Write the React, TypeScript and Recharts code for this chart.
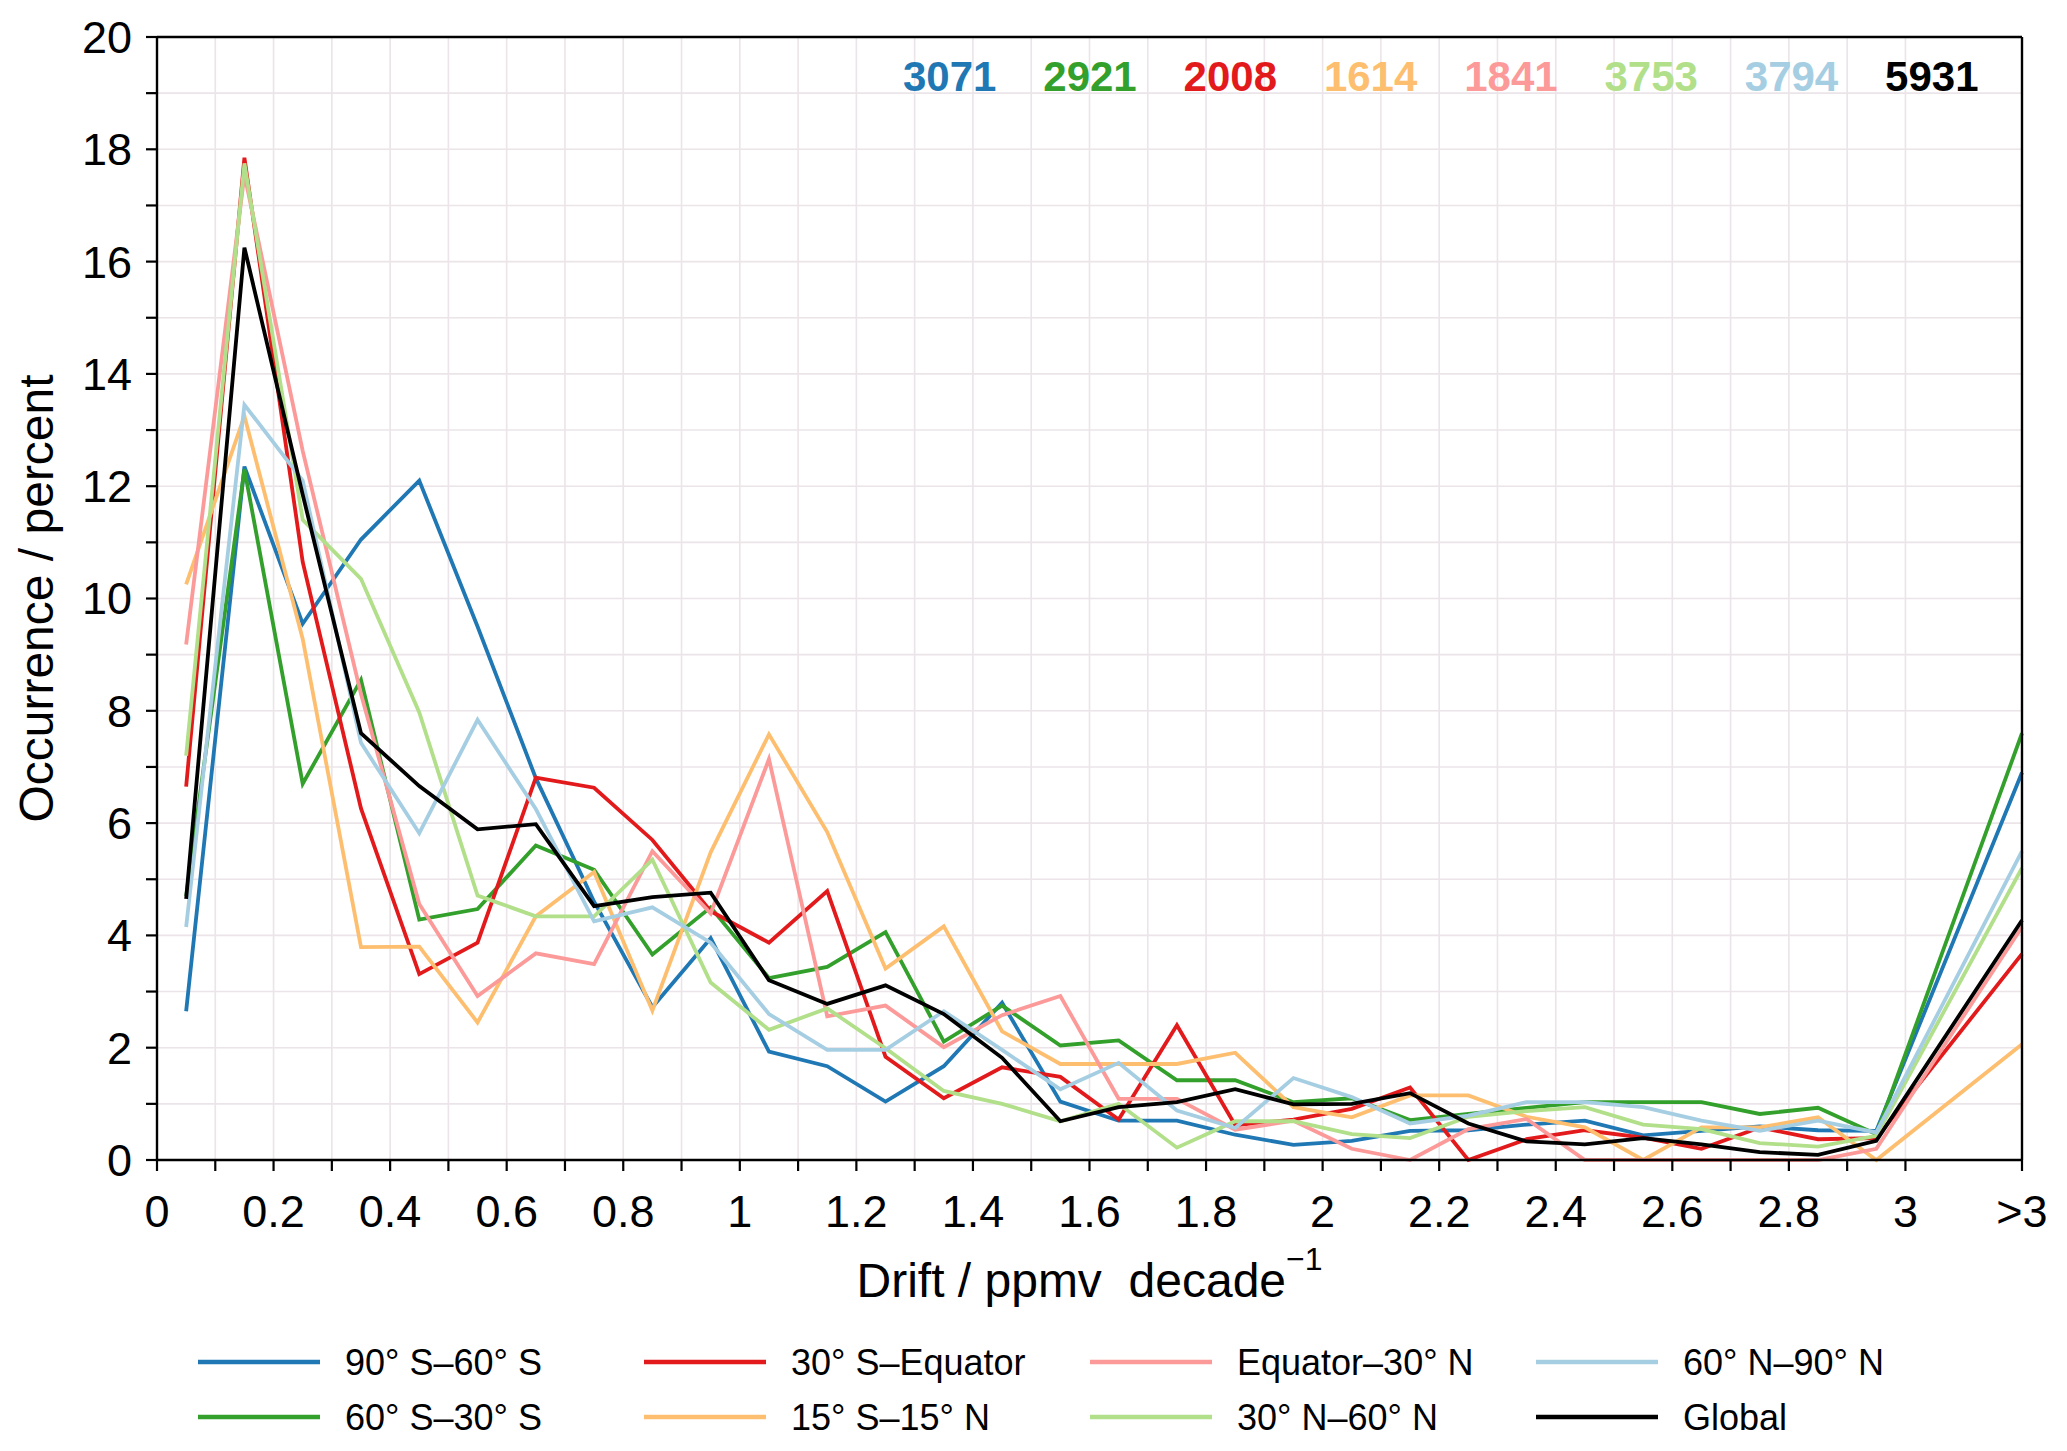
import React from 'react';
import { LineChart, Line, XAxis, YAxis, CartesianGrid } from 'recharts';

document.body.style.margin = '0';

const W = 2067;
const H = 1451;
const FONT = '"Liberation Sans", Arial, Helvetica, sans-serif';

// bin centres, the last one is the ">3" bin
const BINS = [
  0.05, 0.15, 0.25, 0.35, 0.45, 0.55, 0.65, 0.75, 0.85, 0.95,
  1.05, 1.15, 1.25, 1.35, 1.45, 1.55, 1.65, 1.75, 1.85, 1.95,
  2.05, 2.15, 2.25, 2.35, 2.45, 2.55, 2.65, 2.75, 2.85, 2.95, 3.2,
];

const S90S_60S = [
  2.65, 12.35, 9.55, 11.05, 12.1, 9.5, 6.8, 4.6, 2.72, 3.95,
  1.93, 1.67, 1.04, 1.67, 2.8, 1.04, 0.7, 0.7, 0.45, 0.27,
  0.34, 0.52, 0.53, 0.63, 0.7, 0.44, 0.52, 0.6, 0.53, 0.52, 6.9,
];
const S60S_30S = [
  4.7, 12.3, 6.7, 8.55, 4.28, 4.47, 5.6, 5.17, 3.66, 4.5,
  3.24, 3.44, 4.06, 2.11, 2.75, 2.04, 2.13, 1.42, 1.42, 1.03,
  1.1, 0.71, 0.82, 0.93, 1.03, 1.03, 1.03, 0.82, 0.93, 0.46, 7.6,
];
const S30S_EQ = [
  6.65, 17.85, 10.65, 6.26, 3.31, 3.87, 6.81, 6.63, 5.7, 4.43,
  3.87, 4.79, 1.84, 1.1, 1.65, 1.48, 0.72, 2.4, 0.62, 0.72,
  0.91, 1.29, 0.0, 0.37, 0.53, 0.4, 0.2, 0.58, 0.37, 0.39, 3.67,
];
const S15S_15N = [
  10.25, 13.25, 9.28, 3.79, 3.8, 2.45, 4.34, 5.13, 2.66, 5.48,
  7.58, 5.84, 3.41, 4.16, 2.29, 1.71, 1.71, 1.71, 1.91, 0.94,
  0.76, 1.15, 1.15, 0.77, 0.58, 0.0, 0.58, 0.58, 0.76, 0.0, 2.06,
];
const SEQ_30N = [
  9.18, 17.55, 12.63, 8.3, 4.56, 2.92, 3.68, 3.49, 5.5, 4.39,
  7.14, 2.56, 2.75, 2.01, 2.58, 2.92, 1.09, 1.09, 0.54, 0.7,
  0.2, 0.0, 0.55, 0.73, 0.0, 0.0, 0.0, 0.0, 0.0, 0.2, 4.15,
];
const S30N_60N = [
  7.2, 17.75, 11.4, 10.35, 7.97, 4.71, 4.34, 4.34, 5.35, 3.16,
  2.32, 2.7, 1.99, 1.23, 1.0, 0.69, 1.0, 0.22, 0.69, 0.69,
  0.46, 0.39, 0.77, 0.87, 0.94, 0.63, 0.55, 0.3, 0.24, 0.43, 5.2,
];
const S60N_90N = [
  4.15, 13.45, 12.1, 7.43, 5.82, 7.84, 6.25, 4.25, 4.5, 3.87,
  2.6, 1.96, 1.96, 2.65, 1.96, 1.26, 1.73, 0.88, 0.57, 1.46,
  1.12, 0.65, 0.79, 1.03, 1.03, 0.94, 0.7, 0.52, 0.7, 0.49, 5.5,
];
const GLOBAL = [
  4.65, 16.25, 11.85, 7.6, 6.66, 5.89, 5.98, 4.52, 4.68, 4.76,
  3.2, 2.78, 3.11, 2.6, 1.82, 0.69, 0.94, 1.03, 1.26, 0.99,
  1.0, 1.19, 0.65, 0.33, 0.28, 0.39, 0.28, 0.14, 0.09, 0.34, 4.27,
];

const SERIES = [
  { key: 's1', name: '90° S–60° S',   color: '#1f78b4', values: S90S_60S },
  { key: 's2', name: '60° S–30° S',   color: '#33a02c', values: S60S_30S },
  { key: 's3', name: '30° S–Equator', color: '#e31a1c', values: S30S_EQ },
  { key: 's4', name: '15° S–15° N',   color: '#fdbf6f', values: S15S_15N },
  { key: 's5', name: 'Equator–30° N', color: '#fb9a99', values: SEQ_30N },
  { key: 's6', name: '30° N–60° N',   color: '#b2df8a', values: S30N_60N },
  { key: 's7', name: '60° N–90° N',   color: '#a6cee3', values: S60N_90N },
  { key: 's8', name: 'Global',        color: '#000000', values: GLOBAL },
];

// number of profiles per region, same order as SERIES
const COUNTS = [3071, 2921, 2008, 1614, 1841, 3753, 3794, 5931];

const X_TICKS = [
  0, 0.1, 0.2, 0.3, 0.4, 0.5, 0.6, 0.7, 0.8, 0.9, 1, 1.1, 1.2, 1.3, 1.4, 1.5,
  1.6, 1.7, 1.8, 1.9, 2, 2.1, 2.2, 2.3, 2.4, 2.5, 2.6, 2.7, 2.8, 2.9, 3, 3.2,
];
const X_TICK_LABELS = [
  '0', '', '0.2', '', '0.4', '', '0.6', '', '0.8', '', '1', '', '1.2', '', '1.4', '',
  '1.6', '', '1.8', '', '2', '', '2.2', '', '2.4', '', '2.6', '', '2.8', '', '3', '>3',
];
const Y_TICKS = [0, 1, 2, 3, 4, 5, 6, 7, 8, 9, 10, 11, 12, 13, 14, 15, 16, 17, 18, 19, 20];

const data = BINS.map((x, i) => {
  const row: Record<string, number> = { x };
  SERIES.forEach((s) => { row[s.key] = s.values[i]; });
  return row;
});

const axisLine = { stroke: '#000', strokeWidth: 2.4 };
const tickLine = { stroke: '#000', strokeWidth: 2.2 };
const tickFont = { fill: '#000', fontSize: 45, fontFamily: FONT };

function XTitle({ viewBox }: any) {
  const cx = viewBox.x + viewBox.width / 2;
  return (
    <text x={cx} y={viewBox.y + 137} textAnchor="middle" fontFamily={FONT} fontSize={48} fill="#000" style={{ whiteSpace: 'pre' }}>
      {'Drift / ppmv  decade'}
      <tspan fontSize={32} dy={-27}>−1</tspan>
    </text>
  );
}

function YTitle({ viewBox }: any) {
  const x = viewBox.x + viewBox.width - 104;
  const y = viewBox.y + viewBox.height / 2;
  return (
    <text x={x} y={y} transform={`rotate(-90, ${x}, ${y})`} textAnchor="middle" fontFamily={FONT} fontSize={48} fill="#000">
      Occurrence / percent
    </text>
  );
}

export default function App() {
  return (
    <div style={{ position: 'relative', width: W, height: H, background: '#fff' }}>
      <LineChart width={W} height={H} data={data} margin={{ top: 26, right: 34, left: -77, bottom: 131 }}>
        <CartesianGrid stroke="#ebe4e8" strokeWidth={1.6} />
        <XAxis
          dataKey="x"
          type="number"
          domain={[0, 3.2]}
          ticks={X_TICKS}
          interval={0}
          tickFormatter={(v: number) => X_TICK_LABELS[X_TICKS.indexOf(v)] ?? ''}
          tickSize={11}
          tickMargin={24}
          height={160}
          axisLine={axisLine}
          tickLine={tickLine}
          tick={tickFont}
          label={{ content: XTitle }}
        />
        <XAxis
          xAxisId="top"
          orientation="top"
          dataKey="x"
          type="number"
          domain={[0, 3.2]}
          ticks={X_TICKS}
          interval={0}
          tick={false}
          tickSize={11}
          height={11}
          axisLine={axisLine}
          tickLine={tickLine}
        />
        <YAxis
          type="number"
          domain={[0, 20]}
          ticks={Y_TICKS}
          interval={0}
          tickFormatter={(v: number) => (v % 2 === 0 ? String(v) : '')}
          tickSize={11}
          tickMargin={14}
          width={234}
          axisLine={axisLine}
          tickLine={tickLine}
          tick={tickFont}
          label={{ content: YTitle }}
        />
        <YAxis
          yAxisId="right"
          orientation="right"
          type="number"
          domain={[0, 20]}
          ticks={Y_TICKS}
          interval={0}
          tick={false}
          tickSize={11}
          width={11}
          axisLine={axisLine}
          tickLine={tickLine}
        />
        {SERIES.map((s) => (
          <Line
            key={s.key}
            type="linear"
            dataKey={s.key}
            name={s.name}
            stroke={s.color}
            strokeWidth={3.8}
            dot={false}
            activeDot={false}
            isAnimationActive={false}
          />
        ))}
      </LineChart>

      {/* counts at the top and the legend below */}
      <svg width={W} height={H} style={{ position: 'absolute', left: 0, top: 0, pointerEvents: 'none' }}>
        {COUNTS.map((n, i) => (
          <text key={n} x={903 + i * 140.3} y={91} fontFamily={FONT} fontSize={42} fontWeight="bold" fill={SERIES[i].color}>
            {n}
          </text>
        ))}
        {SERIES.map((s, i) => {
          const col = Math.floor(i / 2);
          const row = i % 2;
          const lx = 198 + col * 446;
          const ly = 1362 + row * 55;
          return (
            <g key={s.key}>
              <line x1={lx} x2={lx + 122} y1={ly} y2={ly} stroke={s.color} strokeWidth={4.5} />
              <text x={lx + 147} y={ly + 13} fontFamily={FONT} fontSize={36} fill="#000">
                {s.name}
              </text>
            </g>
          );
        })}
      </svg>
    </div>
  );
}
